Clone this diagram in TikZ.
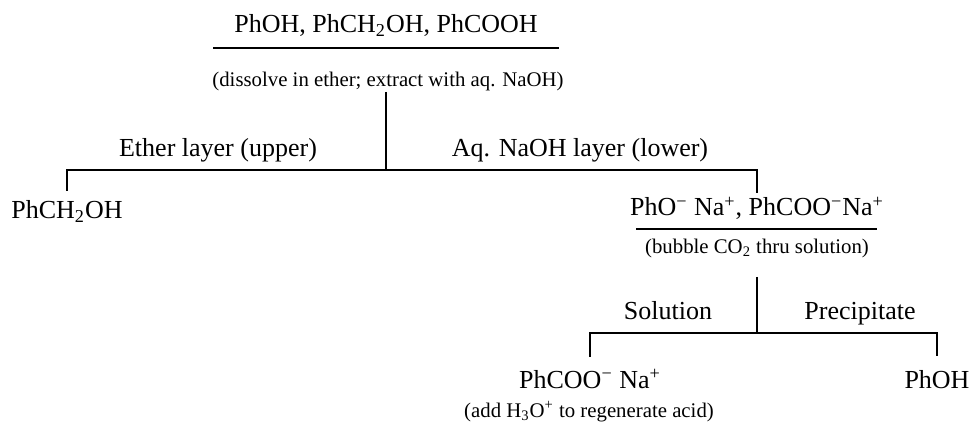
\documentclass[tikz,border=0pt]{standalone}
\usepackage{fontspec}
\setmainfont{Liberation Serif}
\usetikzlibrary{positioning,calc}
\tikzset{
  cmpd/.style={font=\fontsize{13}{15}\selectfont, inner sep=0pt, anchor=base},
  layer/.style={font=\fontsize{13}{15}\selectfont, inner sep=0pt, anchor=base},
  note/.style={font=\fontsize{10.4}{12}\selectfont, inner sep=0pt, anchor=base},
  bar/.style={line width=0.7pt},
}
\newcommand{\chg}[1]{\textsuperscript{#1}}
\newcommand{\sub}[1]{\textsubscript{#1}}

\begin{document}
\begin{tikzpicture}[x=0.5pt,y=-0.5pt]
  \useasboundingbox (0,0) rectangle (972,426);
  % mixture and first extraction
  \node[cmpd] (mix) at (386,33) {PhOH, PhCH\sub{2}OH, PhCOOH};
  \node[note] (mixnote) at (388,87) {(dissolve in ether; extract with aq. NaOH)};
  \coordinate (mixL) at (213,48);
  \coordinate (mixR) at (559,48);
  \draw[bar] (mixL) -- (mixR);
  \coordinate (j1) at (386,170);
  \node[layer] (ether) at (218,157) {Ether layer (upper)};
  \node[layer] (aq) at (580,157) {Aq. NaOH layer (lower)};
  \node[cmpd] (benzyl) at (67,219) {PhCH\sub{2}OH};
  \node[cmpd] (salts) at (757,216) {PhO\chg{−} Na\chg{+}, PhCOO\chg{−}Na\chg{+}};
  \draw[bar] (mixnote.south -| j1) -- (j1);
  \draw[bar] ($(benzyl.north)+(0,-10)$) |- (j1) -| ($(salts.north)+(0,-4)$);
  % CO2 step
  \node[note] (saltsnote) at (757,254) {(bubble CO\sub{2} thru solution)};
  \coordinate (saltsL) at (636,229);
  \coordinate (saltsR) at (877,229);
  \draw[bar] (saltsL) -- (saltsR);
  \coordinate (j2) at (757,333);
  \node[layer] (soln) at (668,320) {Solution};
  \node[layer] (precip) at (860,320) {Precipitate};
  \node[cmpd] (benzoate) at (590,388) {PhCOO\chg{−} Na\chg{+}};
  \node[cmpd] (phenol) at (937,388) {PhOH};
  \node[note] (benzoatenote) at (589,417) {(add H\sub{3}O\chg{+} to regenerate acid)};
  \draw[bar] ($(saltsnote.south -| j2)+(0,18)$) -- (j2);
  \draw[bar] ($(benzoate.north)+(0,-12)$) |- (j2) -| ($(phenol.north)+(0,-14)$);
\end{tikzpicture}
\end{document}
